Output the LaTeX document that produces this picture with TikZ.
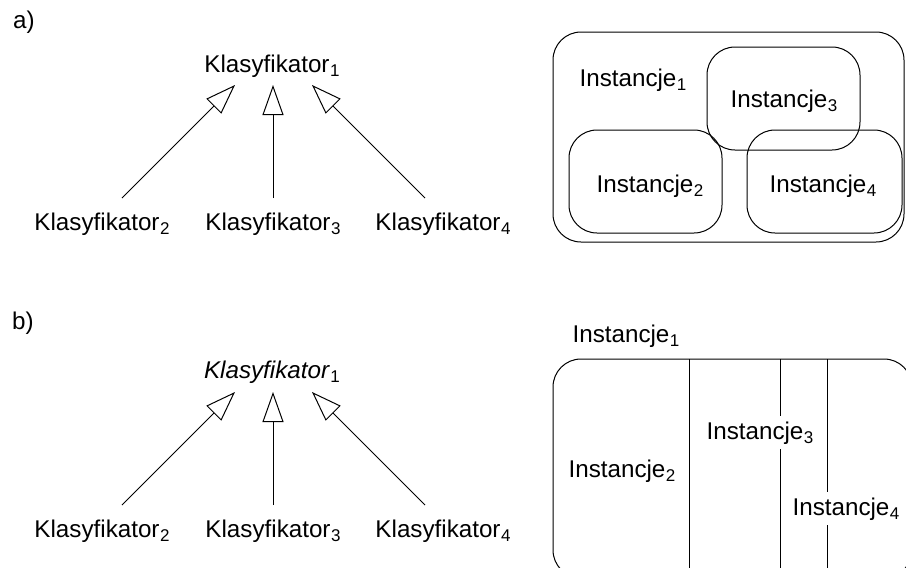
\documentclass[tikz,border=0pt]{standalone}
\usepackage{fontspec}
\setmainfont{Liberation Sans}
\usetikzlibrary{arrows.meta}
% lowered index digit, upright even inside italic text
\newcommand{\idx}[1]{\kern0.5pt\raisebox{-4pt}{\upshape\fontsize{17}{17}\selectfont #1}}

\begin{document}
\begin{tikzpicture}[x=1pt,y=-1pt,
  lbl/.style={font=\fontsize{24.2}{28}\selectfont, inner sep=0pt, anchor=base},
  gen/.style={-{Triangle[open,length=30pt,width=21pt]}, line width=1pt},
  blob/.style={draw, line width=1pt, rounded corners=28pt, inner sep=0pt},
  cut/.style={lbl, fill=white, inner sep=5pt},
  divider/.style={line width=1pt},
]
\useasboundingbox (0,0) rectangle (906,568);
\clip (0,0) rectangle (906,568);

% ---------- part a) ----------
\node[lbl, anchor=base west] (la) at (13,28) {a)};

\node[lbl] (ka1) at (272,72) {Klasyfikator\idx{1}};
\node[lbl] (ka2) at (102,230) {Klasyfikator\idx{2}};
\node[lbl] (ka3) at (273,230) {Klasyfikator\idx{3}};
\node[lbl] (ka4) at (443,230) {Klasyfikator\idx{4}};

\coordinate (ta2) at (235,85);
\coordinate (ta3) at (273,85);
\coordinate (ta4) at (312,85);
\coordinate (sa2) at (122,198);
\coordinate (sa3) at (273,198);
\coordinate (sa4) at (425,198);
\draw[gen] (sa2) -- (ta2);
\draw[gen] (sa3) -- (ta3);
\draw[gen] (sa4) -- (ta4);

% overlapping instance sets
\node[blob, minimum width=351pt, minimum height=210pt] (ia1) at (728.5,137) {};
\node[blob, minimum width=153pt, minimum height=103pt] (ia3) at (783.5,98.5) {};
\node[blob, minimum width=153pt, minimum height=103pt] (ia2) at (645.5,181.5) {};
\node[blob, minimum width=155pt, minimum height=103pt] (ia4) at (824.5,181.5) {};

\node[lbl] (na1) at (633,86) {Instancje\idx{1}};
\node[lbl] (na3) at (784,107) {Instancje\idx{3}};
\node[lbl] (na2) at (650,192) {Instancje\idx{2}};
\node[lbl] (na4) at (823,192) {Instancje\idx{4}};

% ---------- part b) ----------
\node[lbl, anchor=base west] (lb) at (12,329) {b)};

\node[lbl] (kb1) at (272,378) {\itshape Klasyfikator\/\idx{1}};
\node[lbl] (kb2) at (102,537) {Klasyfikator\idx{2}};
\node[lbl] (kb3) at (273,537) {Klasyfikator\idx{3}};
\node[lbl] (kb4) at (443,537) {Klasyfikator\idx{4}};

\coordinate (tb2) at (235,392);
\coordinate (tb3) at (273,392);
\coordinate (tb4) at (312,392);
\coordinate (sb2) at (122,505);
\coordinate (sb3) at (273,505);
\coordinate (sb4) at (425,505);
\draw[gen] (sb2) -- (tb2);
\draw[gen] (sb3) -- (tb3);
\draw[gen] (sb4) -- (tb4);

% partitioned instance set
\node[lbl] (nb1) at (626,342) {Instancje\idx{1}};
\node[blob, minimum width=359pt, minimum height=219pt] (ib1) at (732.5,468.5) {};

\coordinate (p1t) at (689,359);
\coordinate (p1b) at (689,578);
\coordinate (p2t) at (780,359);
\coordinate (p2b) at (780,578);
\coordinate (p3t) at (827,359);
\coordinate (p3b) at (827,578);
\draw[divider] (p1t) -- (p1b);
\draw[divider] (p2t) -- (p2b);
\draw[divider] (p3t) -- (p3b);

\node[lbl] (nb2) at (622,477) {Instancje\idx{2}};
\node[cut] (nb3) at (760,439) {Instancje\idx{3}};
\node[cut] (nb4) at (846,515) {Instancje\idx{4}};
\end{tikzpicture}
\end{document}
